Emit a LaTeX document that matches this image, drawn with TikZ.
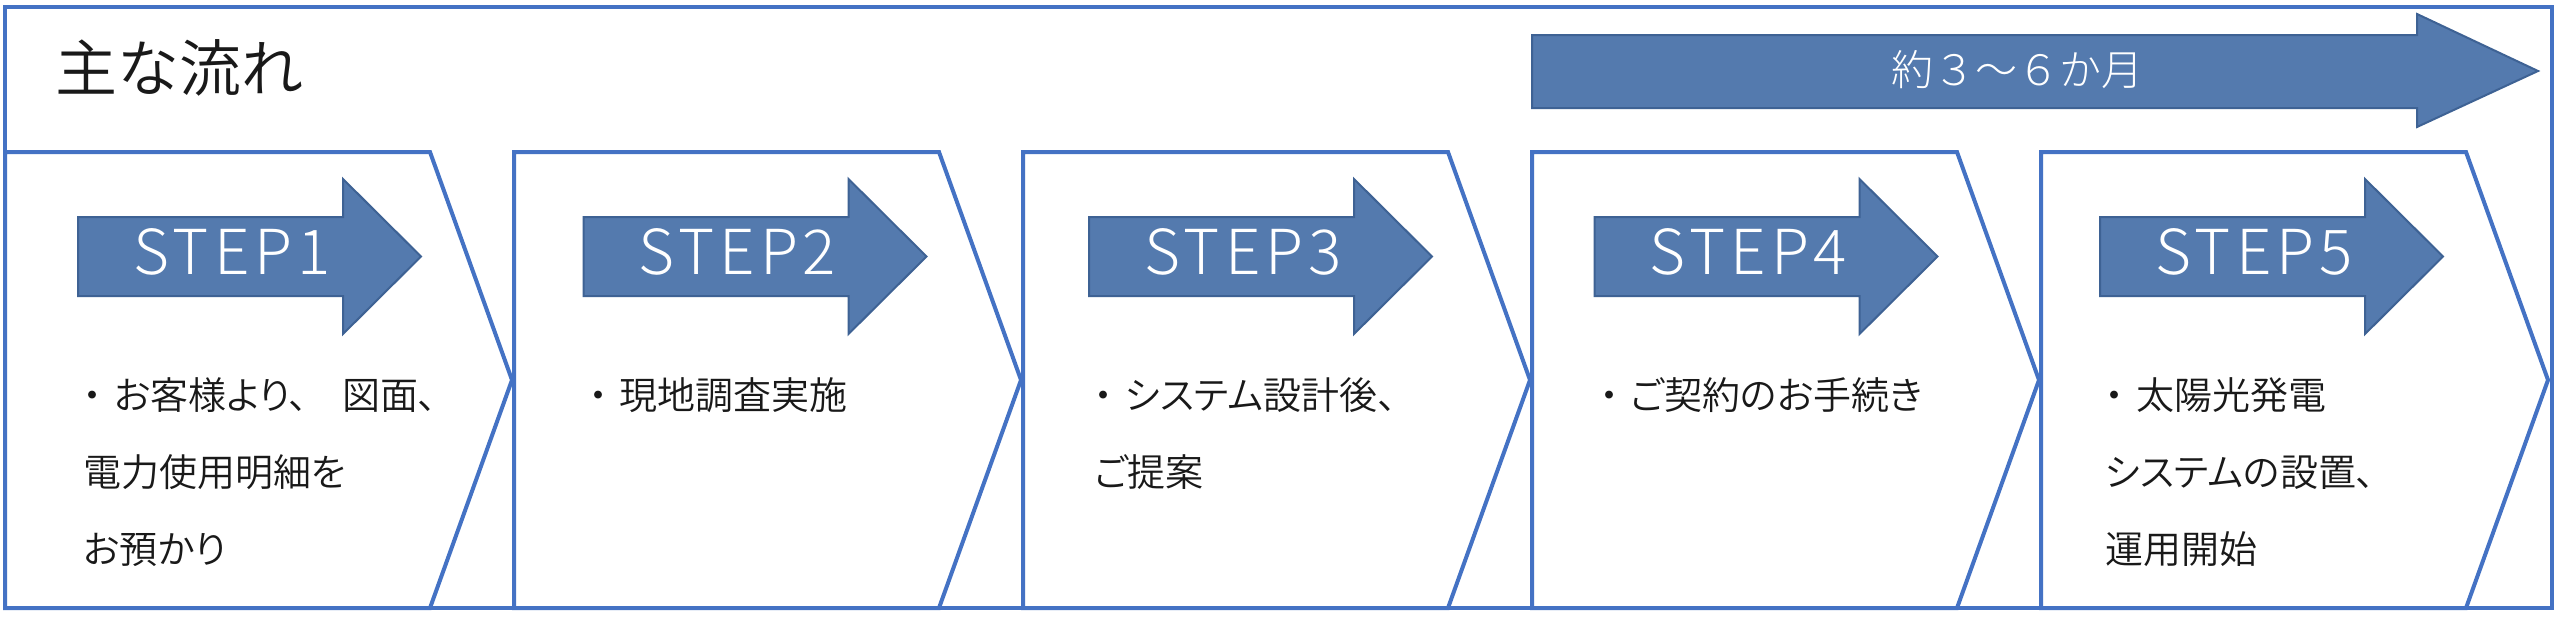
\documentclass[tikz,border=0pt]{standalone}
\usepackage{fontspec}
\setmainfont{Noto Sans CJK JP}
\newfontfamily\jp{Noto Sans CJK JP DemiLight}[RawFeature=+palt]
\newfontfamily\titlefont{Noto Sans CJK JP DemiLight}
\newfontfamily\stepfont{Noto Sans CJK JP Light}[LetterSpace=8]
\newfontfamily\periodfont{Noto Sans CJK JP Light}
\newcommand\dotgap{・\hspace{12pt}}
\definecolor{frameblue}{RGB}{68,114,196}
\definecolor{arrowfill}{RGB}{84,122,174}
\definecolor{arrowline}{RGB}{62,98,148}
\definecolor{textgray}{RGB}{25,25,25}
\begin{document}
\begin{tikzpicture}[x=1pt,y=-1pt,
  frame/.style={draw=frameblue,line width=4pt,line join=miter},
  bigarrow/.style={fill=arrowfill,draw=arrowline,line width=2pt,line join=miter},
  steplabel/.style={text=white,font=\stepfont\fontsize{62}{62}\selectfont,inner sep=0pt},
  bodyline/.style={anchor=west,inner sep=0pt,text=textgray,font=\jp\fontsize{38}{38}\selectfont,text height=33.4pt,text depth=4.6pt},
]
\useasboundingbox (0,0) rectangle (2560,619);
\fill[white] (0,0) rectangle (2560,619);
\draw[frame] (5,7) rectangle (2552,608);
% chevrons
\foreach \k in {0,...,4}{
  \pgfmathsetmacro\L{5+509*\k}
  \draw[frame] (\L,152) -- ({\L+425},152) -- ({\L+507},380) -- ({\L+425},608) -- (\L,608) -- cycle;
}
% step arrows
\foreach \k in {1,...,5}{
  \pgfmathsetmacro\A{78+505.5*(\k-1)}
  \draw[bigarrow] (\A,217) -- ({\A+265},217) -- ({\A+265},179) -- ({\A+343},256.5) -- ({\A+265},334) -- ({\A+265},296) -- (\A,296) -- cycle;
  \node[steplabel] (step\k) at ({\A+154},252) {STEP\k};
}
% title
\node[anchor=west,inner sep=0pt,text=textgray,font=\titlefont\fontsize{62}{62}\selectfont,text height=54.6pt,text depth=7.4pt] (title) at (55,68) {主な流れ};
% period arrow
\draw[bigarrow] (1532,35) -- (2417,35) -- (2417,14) -- (2538,71) -- (2417,127) -- (2417,108) -- (1532,108) -- cycle;
\node[text=white,inner sep=0pt,font=\periodfont\fontsize{42}{42}\selectfont] (period) at (2017,70) {約３～６か月};
% body texts
\node[bodyline] (t1a) at (83,395) {\dotgap お客様より、\hspace{34pt}図面、};
\node[bodyline] (t1b) at (83,472) {電力使用明細を};
\node[bodyline] (t1c) at (83,549) {お預かり};
\node[bodyline] (t2a) at (588.5,395) {\dotgap 現地調査実施};
\node[bodyline] (t3a) at (1094,395) {\dotgap システム設計後、};
\node[bodyline] (t3b) at (1094,472) {ご提案};
\node[bodyline] (t4a) at (1599.5,395) {\dotgap ご契約のお手続き};
\node[bodyline] (t5a) at (2105,395) {\dotgap 太陽光発電};
\node[bodyline] (t5b) at (2105,472) {システムの設置、};
\node[bodyline] (t5c) at (2105,549) {運用開始};
\end{tikzpicture}
\end{document}
